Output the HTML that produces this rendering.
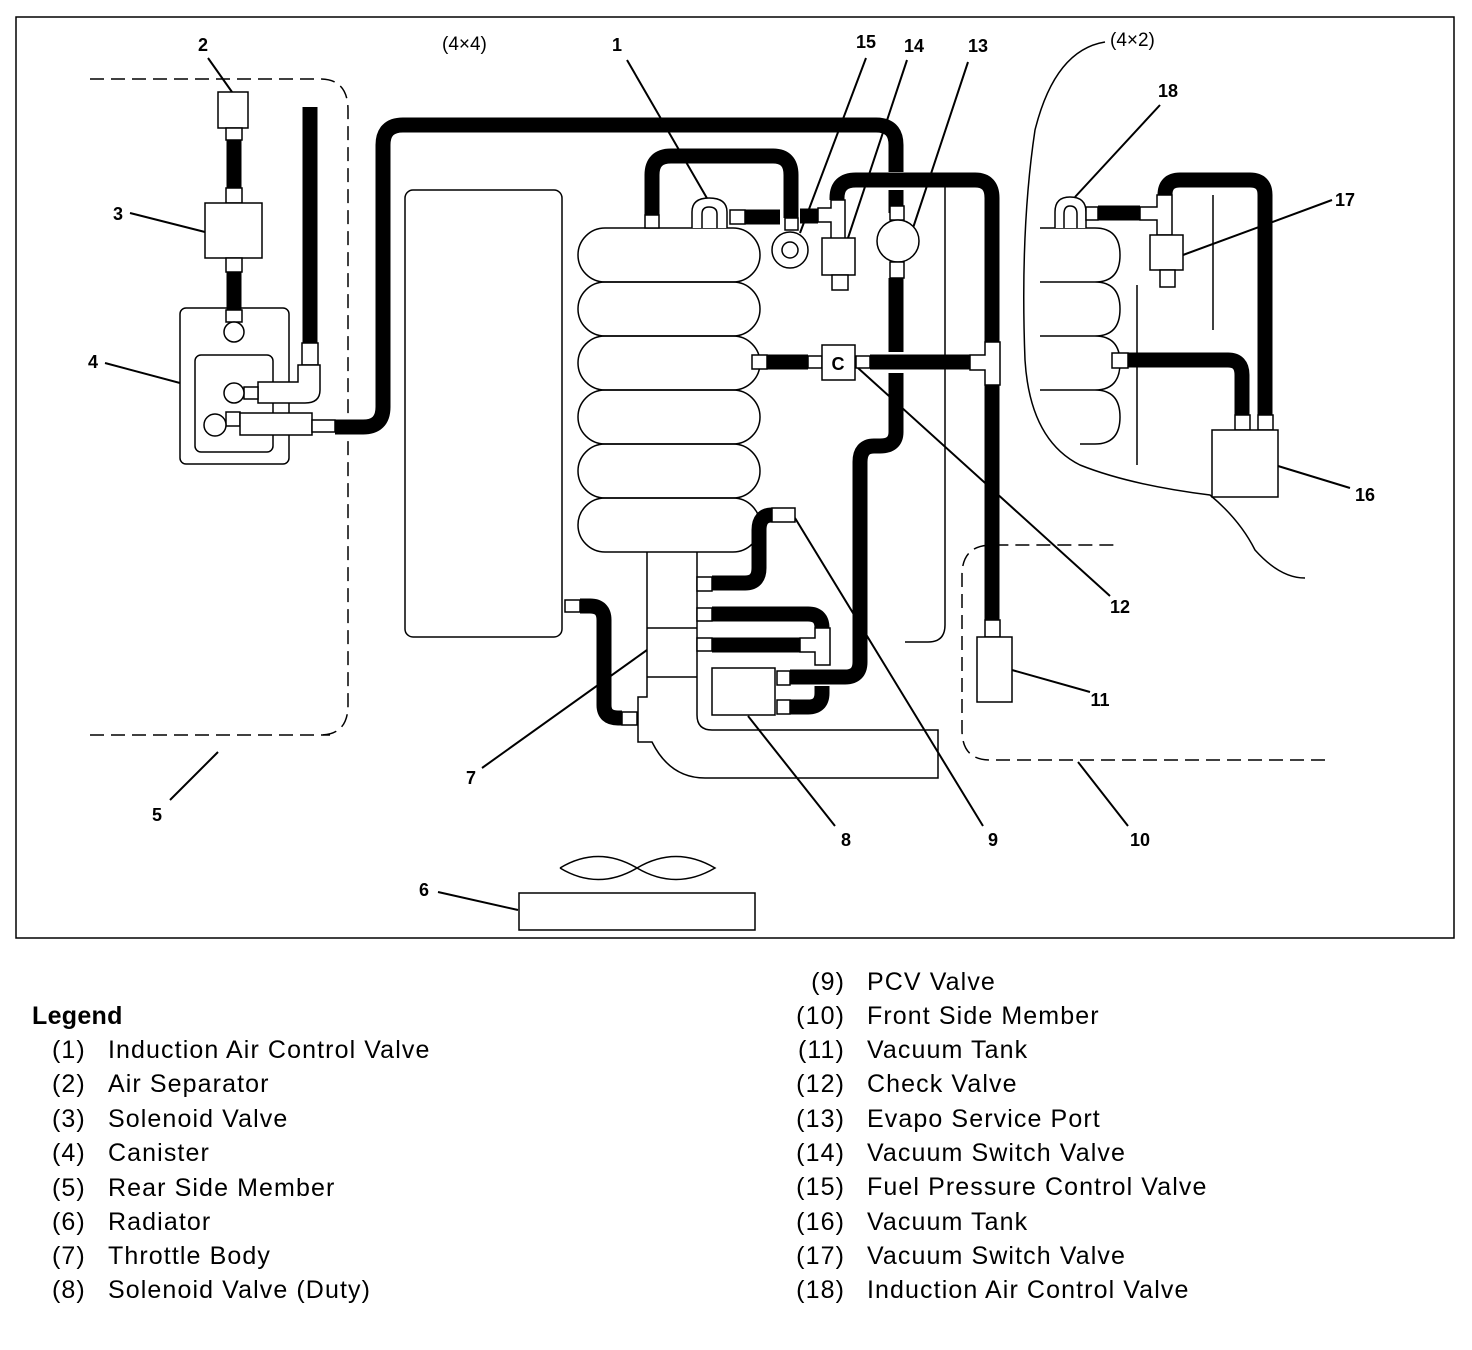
<!DOCTYPE html>
<html><head><meta charset="utf-8"><style>
html,body{margin:0;padding:0;background:#fff;}
svg{display:block;}
.t{font-family:"Liberation Sans",Arial,sans-serif;}
</style></head><body>
<svg width="1472" height="1350" viewBox="0 0 1472 1350" xmlns="http://www.w3.org/2000/svg">
<rect x="16" y="17" width="1438" height="921" fill="none" stroke="#000" stroke-width="1.5"/>
<g fill="none" stroke="#000" stroke-width="1.5">
<path d="M90 79 H320 Q348 79 348 110 V705 Q348 735 320 735" stroke-dasharray="14 7"/>
<path d="M90 735 H330" stroke-dasharray="14 7"/>
<path d="M1325 760 H990 Q962 760 962 730 V575 Q962 545 992 545 H1120" stroke-dasharray="14 7"/>
<path d="M1105 42 Q1055 50 1035 130 Q1020 230 1025 360 Q1030 440 1080 465 Q1130 485 1210 495 Q1240 520 1255 550 Q1280 578 1305 578"/>
<rect x="405" y="190" width="157" height="447" rx="8"/>
<rect x="578" y="228" width="182" height="54" rx="27"/>
<rect x="578" y="282" width="182" height="54" rx="27"/>
<rect x="578" y="336" width="182" height="54" rx="27"/>
<rect x="578" y="390" width="182" height="54" rx="27"/>
<rect x="578" y="444" width="182" height="54" rx="27"/>
<rect x="578" y="498" width="182" height="54" rx="27"/>
<path d="M647 552 V697 H638 V742 H652 Q670 778 705 778 H938 V730 H712 Q697 730 697 715 V552"/>
<path d="M647 628 H697 M647 677 H697"/>
<path d="M945 175 V625 Q945 642 928 642 H905"/>
<path d="M1040 228 H1095 Q1120 228 1120 255 Q1120 282 1095 282 H1040 M1095 282 Q1120 282 1120 309 Q1120 336 1095 336 H1040 M1095 336 Q1120 336 1120 363 Q1120 390 1095 390 H1040 M1095 390 Q1120 390 1120 417 Q1120 444 1095 444 H1080"/>
<path d="M1137 285 V465 M1213 195 V330"/>
<rect x="180" y="308" width="109" height="156" rx="6"/>
<rect x="195" y="355" width="78" height="97" rx="6"/>
<path d="M560 868 Q598 845 637 868 Q676 891 715 868 Q676 845 637 868 Q598 891 560 868"/>
<rect x="519" y="893" width="236" height="37"/>
<path d="M627 60 L708 200 M866 58 L800 233 M907 60 L848 238 M968 62 L913 228 M208 58 L232 92 M130 213 L205 232 M105 363 L180 383 M170 800 L218 752 M438 892 L518 910 M482 768 L647 650 M835 826 L748 716 M983 826 L795 518 M1128 826 L1078 762 M1090 692 L1012 670 M1110 596 L858 368 M1350 488 L1278 466 M1332 200 L1183 255 M1160 105 L1075 197" stroke-width="2"/>
</g>
<g fill="none" stroke="#000" stroke-width="15">
<path d="M234 140 V188 M234 272 V310"/>
<path d="M310 107 V343"/>
<path d="M335 427 H363 Q383 427 383 407 V145 Q383 125 403 125 H876 Q896 125 896 145 V172"/>
<path d="M896 190 V213 M896 278 V352 M896 373 V432 Q896 446 880 446 H874 Q860 446 860 462 V662 Q860 677 845 677 H790"/>
<path d="M652 215 V175 Q652 156 671 156 H773 Q791 156 791 175 V218"/>
<path d="M745 217 H780 M800 216 H818"/>
<path d="M837 200 V198 Q837 180 856 180 H975 Q992 180 992 198 V350 M992 385 V620"/>
<path d="M767 362 H808 M870 362 H970"/>
<path d="M712 583 H745 Q759 583 759 568 V530 Q759 515 772 515"/>
<path d="M712 614 H808 Q822 614 822 628 V630 M712 645 H800"/>
<path d="M790 707 H808 Q822 707 822 693 V686"/>
<path d="M580 606 H590 Q604 606 604 620 V705 Q604 718 618 718 H622"/>
<path d="M1098 213 H1140"/>
<path d="M1165 195 Q1165 180 1180 180 H1250 Q1265 180 1265 195 V415"/>
<path d="M1128 360 H1228 Q1242 360 1242 375 V415"/>
</g>
<g fill="#fff" stroke="#000" stroke-width="1.5">
<rect x="218" y="92" width="30" height="36"/>
<rect x="226" y="128" width="16" height="12"/>
<rect x="226" y="188" width="16" height="15"/>
<rect x="205" y="203" width="57" height="55"/>
<rect x="226" y="258" width="16" height="14"/>
<rect x="226" y="310" width="16" height="12"/>
<circle cx="234" cy="332" r="10"/>
<rect x="302" y="343" width="16" height="22"/>
<path d="M258 382 H298 V365 H320 V390 Q320 403 305 403 H258 Z"/>
<rect x="244" y="387" width="14" height="12"/>
<circle cx="234" cy="393" r="10"/>
<rect x="226" y="412" width="14" height="14"/>
<rect x="240" y="413" width="72" height="22"/>
<circle cx="215" cy="425" r="11"/>
<rect x="312" y="420" width="23" height="12"/>
<rect x="645" y="215" width="14" height="13"/>
<path d="M692 228 V212 Q692 198 709 198 Q727 198 727 212 V228 M702 228 V214 Q702 207 709 207 Q717 207 717 214 V228"/>
<rect x="730" y="210" width="15" height="14"/>
<rect x="785" y="218" width="13" height="12"/>
<circle cx="790" cy="250" r="18"/>
<circle cx="790" cy="250" r="8"/>
<path d="M818 208 H831 V200 H845 V240 H831 V222 H818 Z"/>
<rect x="822" y="238" width="33" height="37"/>
<rect x="832" y="275" width="16" height="15"/>
<rect x="890" y="206" width="14" height="14"/>
<circle cx="898" cy="241" r="21"/>
<rect x="890" y="262" width="14" height="16"/>
<rect x="752" y="355" width="15" height="14"/>
<rect x="808" y="356" width="14" height="12"/>
<rect x="822" y="345" width="33" height="35"/>
<rect x="856" y="356" width="14" height="12"/>
<path d="M970 355 H985 V342 H1000 V385 H985 V370 H970 Z"/>
<rect x="985" y="620" width="15" height="17"/>
<rect x="977" y="637" width="35" height="65"/>
<rect x="697" y="577" width="15" height="14"/>
<rect x="697" y="608" width="15" height="13"/>
<rect x="697" y="638" width="15" height="13"/>
<path d="M800 638 H815 V628 H830 V665 H815 V652 H800 Z"/>
<rect x="772" y="508" width="23" height="14"/>
<rect x="712" y="668" width="63" height="47"/>
<rect x="777" y="671" width="13" height="14"/>
<rect x="777" y="700" width="13" height="14"/>
<rect x="565" y="600" width="15" height="12"/>
<rect x="622" y="712" width="15" height="13"/>
<path d="M1055 228 V212 Q1055 197 1070 197 Q1086 197 1086 212 V228 M1064 228 V214 Q1064 206 1070 206 Q1077 206 1077 214 V228"/>
<rect x="1086" y="207" width="12" height="13"/>
<path d="M1140 207 H1157 V195 H1172 V235 H1157 V220 H1140 Z"/>
<rect x="1150" y="235" width="33" height="35"/>
<rect x="1160" y="270" width="15" height="17"/>
<rect x="1112" y="353" width="16" height="15"/>
<rect x="1235" y="415" width="15" height="15"/>
<rect x="1258" y="415" width="15" height="15"/>
<rect x="1212" y="430" width="66" height="67"/>
</g>
<g class="t" font-size="18" font-weight="bold" text-anchor="middle" fill="#000">
<text x="838" y="370">C</text>
<text x="617" y="51">1</text><text x="866" y="48">15</text><text x="914" y="52">14</text><text x="978" y="52">13</text>
<text x="203" y="51">2</text><text x="118" y="220">3</text><text x="93" y="368">4</text><text x="157" y="821">5</text>
<text x="424" y="896">6</text><text x="471" y="784">7</text><text x="846" y="846">8</text><text x="993" y="846">9</text>
<text x="1140" y="846">10</text><text x="1100" y="706">11</text><text x="1120" y="613">12</text>
<text x="1365" y="501">16</text><text x="1345" y="206">17</text><text x="1168" y="97">18</text>
</g>
<g class="t" font-size="19" fill="#000">
<text x="442" y="50">(4×4)</text><text x="1110" y="46">(4×2)</text>
</g>
<g class="t" font-size="25" fill="#000" letter-spacing="1.1">
<text x="32" y="1024" font-weight="bold" letter-spacing="0.3">Legend</text>
<text x="52" y="1058">(1)</text><text x="108" y="1058">Induction Air Control Valve</text>
<text x="52" y="1092">(2)</text><text x="108" y="1092">Air Separator</text>
<text x="52" y="1127">(3)</text><text x="108" y="1127">Solenoid Valve</text>
<text x="52" y="1161">(4)</text><text x="108" y="1161">Canister</text>
<text x="52" y="1196">(5)</text><text x="108" y="1196">Rear Side Member</text>
<text x="52" y="1230">(6)</text><text x="108" y="1230">Radiator</text>
<text x="52" y="1264">(7)</text><text x="108" y="1264">Throttle Body</text>
<text x="52" y="1298">(8)</text><text x="108" y="1298">Solenoid Valve (Duty)</text>
</g>
<g class="t" font-size="25" fill="#000" letter-spacing="1.1">
<g text-anchor="end">
<text x="845" y="990">(9)</text><text x="845" y="1024">(10)</text><text x="845" y="1058">(11)</text><text x="845" y="1092">(12)</text>
<text x="845" y="1127">(13)</text><text x="845" y="1161">(14)</text><text x="845" y="1195">(15)</text><text x="845" y="1230">(16)</text>
<text x="845" y="1264">(17)</text><text x="845" y="1298">(18)</text>
</g>
<text x="867" y="990">PCV Valve</text><text x="867" y="1024">Front Side Member</text><text x="867" y="1058">Vacuum Tank</text>
<text x="867" y="1092">Check Valve</text><text x="867" y="1127">Evapo Service Port</text><text x="867" y="1161">Vacuum Switch Valve</text>
<text x="867" y="1195">Fuel Pressure Control Valve</text><text x="867" y="1230">Vacuum Tank</text><text x="867" y="1264">Vacuum Switch Valve</text>
<text x="867" y="1298">Induction Air Control Valve</text>
</g>
</svg>
</body></html>
